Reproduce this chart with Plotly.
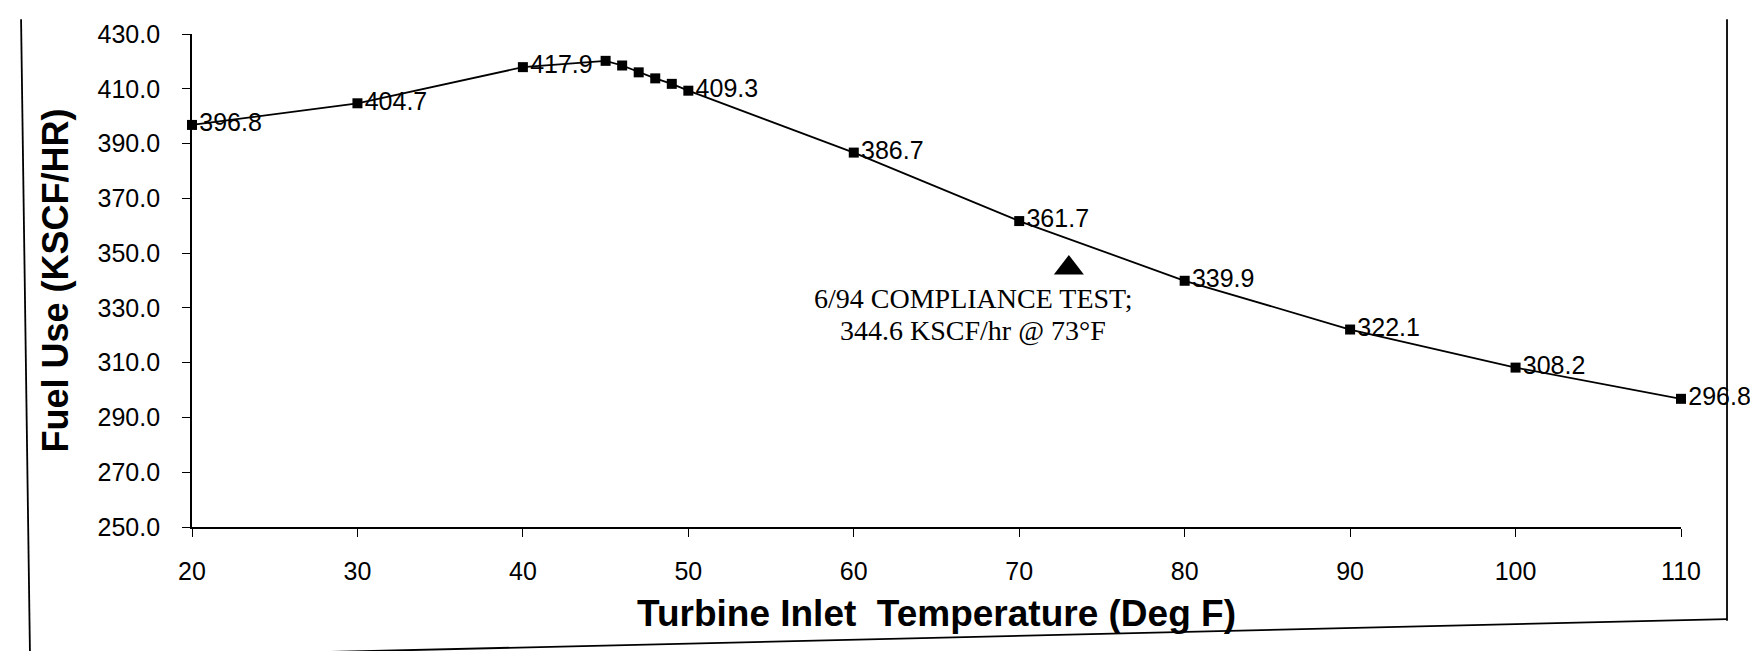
import plotly.graph_objects as go

temps = [20, 30, 40, 45, 46, 47, 48, 49, 50, 60, 70, 80, 90, 100, 110]
fuel = [396.8, 404.7, 417.9, 420.2, 418.5, 416.0, 413.8, 411.8, 409.3,
        386.7, 361.7, 339.9, 322.1, 308.2, 296.8]
labeled_temps = [20, 30, 40, 50, 60, 70, 80, 90, 100, 110]

test_temp = [73]
test_fuel = [344.6]
test_note_lines = ["6/94 COMPLIANCE TEST;", "344.6 KSCF/hr @ 73°F"]

y_ticks = [250, 270, 290, 310, 330, 350, 370, 390, 410, 430]
x_ticks = [20, 30, 40, 50, 60, 70, 80, 90, 100, 110]

labels = [f"{v:.1f}" if t in labeled_temps else "" for t, v in zip(temps, fuel)]

fig = go.Figure()
fig.add_trace(go.Scatter(
    x=temps, y=fuel, mode="lines+markers+text",
    text=labels, textposition="middle right",
    textfont=dict(family="Liberation Sans, Arial", size=25, color="black"),
    line=dict(color="black", width=1.8),
    marker=dict(symbol="square", size=10, color="black"),
    cliponaxis=False, showlegend=False,
))
fig.add_trace(go.Scatter(
    x=test_temp, y=test_fuel, mode="markers",
    marker=dict(symbol="triangle-up", size=26, color="black"),
    showlegend=False,
))
for line_text, yy in zip(test_note_lines, [333.6, 321.8]):
    fig.add_annotation(
        x=67.2, y=yy, text=line_text, showarrow=False,
        font=dict(family="Liberation Serif, Times New Roman", size=28, color="black"),
        align="center",
    )

# page frame
frame = dict(color="black", width=1.8)
fig.add_shape(type="line", xref="paper", yref="paper", x0=-0.1148, x1=-0.1088, y0=1.03, y1=-0.262, line=frame)
fig.add_shape(type="line", xref="paper", yref="paper", x0=1.0309, x1=1.0309, y0=1.03, y1=-0.19, line=frame)
fig.add_shape(type="line", xref="paper", yref="paper", x0=0.0578, x1=1.0309, y0=-0.256, y1=-0.187, line=frame)

fig.update_layout(
    width=1758, height=651,
    margin=dict(l=184, r=85, t=15, b=132),
    paper_bgcolor="white", plot_bgcolor="white",
    font=dict(family="Liberation Sans, Arial", color="black"),
    xaxis=dict(
        range=[20, 110], tickvals=x_ticks, ticks="outside", ticklen=8,
        tickcolor="black", showline=True, linecolor="black", linewidth=1.8,
        showgrid=False, zeroline=False, ticklabelstandoff=13,
        tickfont=dict(size=25), ticklabeloverflow="allow",
        title=dict(text="Turbine Inlet  Temperature (Deg F)",
                   font=dict(size=37, family="Liberation Sans, Arial", weight="bold"),
                   standoff=16),
    ),
    yaxis=dict(
        range=[250, 430], tickvals=y_ticks, tickformat=".1f", ticks="outside",
        ticklen=8, tickcolor="black", showline=True, linecolor="black",
        linewidth=1.8, showgrid=False, zeroline=False, ticklabelstandoff=17,
        tickfont=dict(size=25), ticklabeloverflow="allow",
        title=dict(text="Fuel Use (KSCF/HR)",
                   font=dict(size=36, family="Liberation Sans, Arial", weight="bold"),
                   standoff=18),
    ),
)

fig.write_html("out.html")
